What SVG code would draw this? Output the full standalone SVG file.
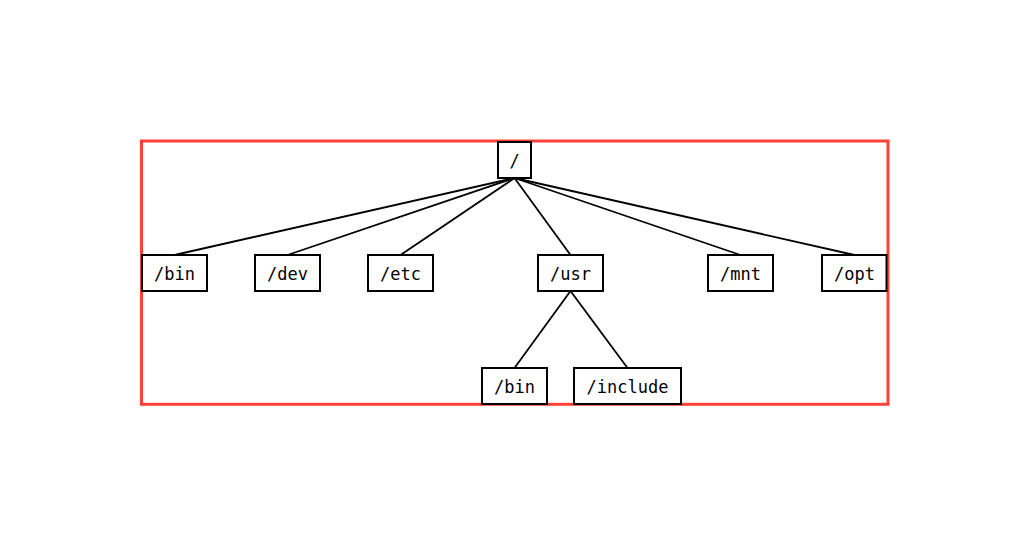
<svg xmlns="http://www.w3.org/2000/svg" width="1029" height="546" viewBox="0 0 1029 546">
<style>
.frame{fill:none;stroke:#ff4136;stroke-width:3}
.node rect{fill:#fff;stroke:#000;stroke-width:2}
.node text{font-family:"DejaVu Sans Mono",monospace;font-size:17px;fill:#000;text-anchor:middle;dominant-baseline:central}
.edges line{stroke:#000;stroke-width:1.8}
</style>
<rect width="1029" height="546" fill="#fff"/>
<rect class="frame" x="141.5" y="141" width="746.5" height="263.3"/>
<g class="edges" id="connectors">
<line x1="514.5" y1="178" x2="174.5" y2="255"/>
<line x1="514.5" y1="178" x2="287.5" y2="255"/>
<line x1="514.5" y1="178" x2="400.5" y2="255"/>
<line x1="514.5" y1="178" x2="570.5" y2="255"/>
<line x1="514.5" y1="178" x2="740.5" y2="255"/>
<line x1="514.5" y1="178" x2="854.5" y2="255"/>
<line x1="570.5" y1="291" x2="514.5" y2="368"/>
<line x1="570.5" y1="291" x2="627.5" y2="368"/>
</g>
<g class="node" id="root"><rect x="498" y="142" width="33" height="36"/><text x="514.5" y="161">/</text></g>
<g class="node" id="bin"><rect x="142" y="255" width="65" height="36"/><text x="174.5" y="274">/bin</text></g>
<g class="node" id="dev"><rect x="255" y="255" width="65" height="36"/><text x="287.5" y="274">/dev</text></g>
<g class="node" id="etc"><rect x="368" y="255" width="65" height="36"/><text x="400.5" y="274">/etc</text></g>
<g class="node" id="usr"><rect x="538" y="255" width="65" height="36"/><text x="570.5" y="274">/usr</text></g>
<g class="node" id="mnt"><rect x="708" y="255" width="65" height="36"/><text x="740.5" y="274">/mnt</text></g>
<g class="node" id="opt"><rect x="822" y="255" width="64.5" height="36"/><text x="854.5" y="274">/opt</text></g>
<g class="node" id="usr_bin"><rect x="482" y="368" width="65" height="36"/><text x="514.5" y="387">/bin</text></g>
<g class="node" id="usr_include"><rect x="574" y="368" width="107" height="36"/><text x="627.5" y="387">/include</text></g>
</svg>
